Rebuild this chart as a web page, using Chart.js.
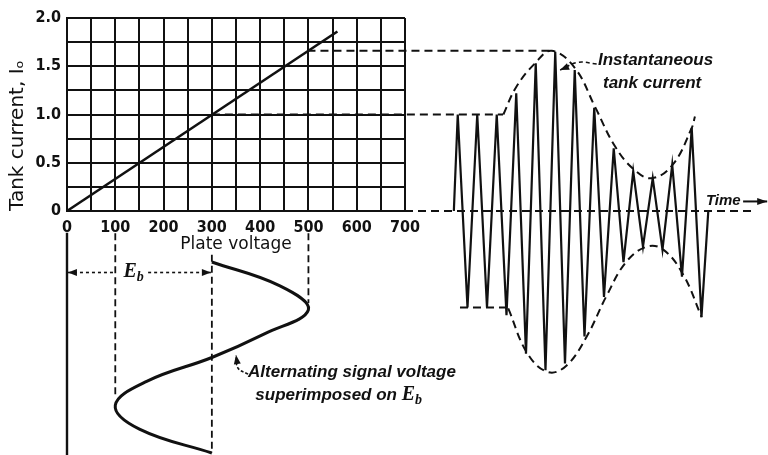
<!DOCTYPE html>
<html>
<head>
<meta charset="utf-8">
<title>Tank current and plate voltage</title>
<script src="https://cdn.jsdelivr.net/npm/chart.js@4.4.1/dist/chart.umd.min.js"></script>
<style>
  html, body { margin: 0; padding: 0; background: #fff; }
  #wrap { width: 768px; height: 455px; }
</style>
</head>
<body>
<div id="wrap"><canvas id="diagram" width="768" height="455"></canvas></div>
<script>
// --- characteristic: tank current vs plate voltage ---
const plateVolts = [0, 560];
const tankAmps = [0, 1.86];

// --- projection lines from the characteristic to the waveform ---
const peakLevelVolts = [498, 1003];
const peakLevelAmps = [1.66, 1.66];
const unitLevelVolts = [300, 903];
const unitLevelAmps = [1.0, 1.0];
const zeroLevelVolts = [700, 1420];
const zeroLevelAmps = [0, 0];

// --- instantaneous tank current, time in half-cycles of the carrier ---
const waveTime = [0.6, 1, 2, 3, 4, 5, 6, 7, 8, 9, 10, 11, 12, 13, 14, 15, 16, 17, 18, 19, 20, 21, 22, 23, 24, 25, 26, 26.7];
const waveAmps = [0, 1.0, -1.0, 1.0, -1.0, 1.0, -1.08, 1.22, -1.48, 1.53, -1.65, 1.65, -1.58, 1.46, -1.3, 1.07, -0.89, 0.65, -0.53, 0.41, -0.37, 0.34, -0.4, 0.48, -0.68, 0.86, -1.1, 0];

const upperEnvTime = [5.68, 6.97, 8.92, 10.63, 13.03, 15.08, 17.13, 19.08, 20.89, 23.05, 25.0, 25.33];
const upperEnvAmps = [1.0, 1.28, 1.53, 1.66, 1.48, 1.08, 0.67, 0.43, 0.34, 0.48, 0.86, 0.98];
const lowerEnvTime = [6.18, 8.17, 10.29, 12.17, 14.23, 16.21, 18.26, 20.38, 22.08, 24.13, 26.02];
const lowerEnvAmps = [-1.01, -1.48, -1.67, -1.6, -1.3, -0.89, -0.53, -0.37, -0.4, -0.66, -1.1];
const negLevelTime = [1.23, 6.15];
const negLevelAmps = [-1.0, -1.0];

const leaderTime = [15.25, 13.3, 11.5];
const leaderAmps = [1.523, 1.54, 1.46];
const timeArrowTime = [30.27, 32.74];
const timeArrowAmps = [0.099, 0.099];

// --- alternating signal voltage on the plate, time in quarter-cycles (downwards) ---
const signalTime = [0, 0.5, 1, 1.5, 2, 2.5, 3, 3.5, 4];
const signalVolts = [300, 441, 500, 410, 300, 165, 100, 150, 300];

const zeroAxisTime = [-0.61, 4.04];
const guide100Time = [-0.6, 2.8];
const guide300Time = [-0.15, 4.0];
const guide500Time = [-0.6, 0.86];
const ebLeftVolts = [2, 96];
const ebRightVolts = [168, 298];
const ebTime = [0.22, 0.22];
const signalLeaderVolts = [375, 354, 350];
const signalLeaderTime = [2.35, 2.22, 1.95];

// ticks
const voltStep = 50;
const ampStep = 0.25;

const pts = (xs, ys) => xs.map((x, i) => ({ x: x, y: ys[i] }));
const ink = '#111';
const fam = "'Liberation Sans', 'DejaVu Sans', sans-serif";
const wide = "'DejaVu Sans', sans-serif";
const cond = "'DejaVu Sans Condensed', 'DejaVu Sans', sans-serif";
const italic = 'italic bold 17px ' + fam;
const serifE = "italic bold 20px 'Liberation Serif', serif";
const serifSub = "italic bold 14px 'Liberation Serif', serif";

function line(data, xAxisID, yAxisID, extra) {
    return Object.assign({
        data: data,
        xAxisID: xAxisID,
        yAxisID: yAxisID,
        borderColor: ink,
        backgroundColor: ink,
        borderWidth: 2,
        pointRadius: 0,
        tension: 0,
        fill: false,
        clip: false
    }, extra || {});
}

// text notes, placed in the chart's own data coordinates
const notes = [
    { xAxis: 'xt', yAxis: 'y', x: 15.38, y: 1.557, parts: [{ text: 'Instantaneous', font: italic }] },
    { xAxis: 'xt', yAxis: 'y', x: 15.9, y: 1.319, parts: [{ text: 'tank current', font: italic }] },
    { xAxis: 'xt', yAxis: 'y', x: 26.46, y: 0.104, parts: [{ text: 'Time', font: 'italic bold 15px ' + fam }] },
    { xAxis: 'x', yAxis: 'yt', x: 375, y: 2.3, parts: [{ text: 'Alternating signal voltage', font: italic }] },
    { xAxis: 'x', yAxis: 'yt', x: 390, y: 2.79, parts: [
        { text: 'superimposed on ', font: italic },
        { text: 'E', font: serifE },
        { text: 'b', font: serifSub, dy: 5 }
    ] },
    { xAxis: 'x', yAxis: 'yt', x: 117, y: 0.2, parts: [
        { text: 'E', font: serifE },
        { text: 'b', font: serifSub, dy: 6 }
    ] }
];

const notePlugin = {
    id: 'notes',
    afterDatasetsDraw(chart) {
        const ctx = chart.ctx;
        ctx.save();
        ctx.fillStyle = ink;
        ctx.textBaseline = 'middle';
        ctx.textAlign = 'left';
        notes.forEach(n => {
            let px = chart.scales[n.xAxis].getPixelForValue(n.x);
            const py = chart.scales[n.yAxis].getPixelForValue(n.y);
            n.parts.forEach(p => {
                ctx.font = p.font;
                ctx.fillText(p.text, px, py + (p.dy || 0));
                px += ctx.measureText(p.text).width;
            });
        });
        ctx.restore();
    }
};

// arrowheads at chosen points of a dataset (points outside the chart area are not drawn by Chart.js)
const arrowPlugin = {
    id: 'arrows',
    afterDatasetsDraw(chart) {
        const ctx = chart.ctx;
        ctx.save();
        ctx.fillStyle = ink;
        chart.data.datasets.forEach((ds, i) => {
            if (!ds.arrows) return;
            const els = chart.getDatasetMeta(i).data;
            ds.arrows.forEach(idx => {
                const tip = els[idx];
                const from = els[idx === 0 ? 1 : idx - 1];
                const a = Math.atan2(tip.y - from.y, tip.x - from.x);
                const len = ds.arrowLen || 9, half = ds.arrowHalf || 3.5;
                ctx.beginPath();
                ctx.moveTo(tip.x, tip.y);
                ctx.lineTo(tip.x - len * Math.cos(a) + half * Math.sin(a), tip.y - len * Math.sin(a) - half * Math.cos(a));
                ctx.lineTo(tip.x - len * Math.cos(a) - half * Math.sin(a), tip.y - len * Math.sin(a) + half * Math.cos(a));
                ctx.closePath();
                ctx.fill();
            });
        });
        ctx.restore();
    }
};

// hidden axes get their range after the data limits, so the marks may fall outside the grid
function fixRange(min, max) {
    return scale => { scale.min = min; scale.max = max; };
}

const datasets = [
    line(pts(plateVolts, tankAmps), 'x', 'y', { borderWidth: 2.6 }),
    line(pts(peakLevelVolts, peakLevelAmps), 'x', 'y', { borderDash: [8, 5] }),
    line(pts(unitLevelVolts, unitLevelAmps), 'x', 'y', { borderDash: [8, 5] }),
    line(pts(zeroLevelVolts, zeroLevelAmps), 'x', 'y', { borderDash: [8, 5] }),

    line(pts(waveTime, waveAmps), 'xt', 'y', { borderWidth: 2.2 }),
    line(pts(upperEnvTime, upperEnvAmps), 'xt', 'y', { borderDash: [8, 5], tension: 0.4 }),
    line(pts(lowerEnvTime, lowerEnvAmps), 'xt', 'y', { borderDash: [8, 5], tension: 0.4 }),
    line(pts(negLevelTime, negLevelAmps), 'xt', 'y', { borderDash: [8, 5] }),
    line(pts(leaderTime, leaderAmps), 'xt', 'y', { borderDash: [4, 3], borderWidth: 1.6, tension: 0.4, arrows: [2] }),
    line(pts(timeArrowTime, timeArrowAmps), 'xt', 'y', { borderWidth: 2, arrows: [1], arrowLen: 10 }),

    line(pts(signalVolts, signalTime), 'x', 'yt', { borderWidth: 3, tension: 0.4 }),
    line(pts([0, 0], zeroAxisTime), 'x', 'yt', { borderWidth: 2.4 }),
    line(pts([100, 100], guide100Time), 'x', 'yt', { borderDash: [7, 4], borderWidth: 1.8 }),
    line(pts([300, 300], guide300Time), 'x', 'yt', { borderDash: [7, 4], borderWidth: 1.8 }),
    line(pts([500, 500], guide500Time), 'x', 'yt', { borderDash: [7, 4], borderWidth: 1.8 }),
    line(pts(ebLeftVolts, ebTime), 'x', 'yt', { borderDash: [3, 3], borderWidth: 1.6, arrows: [0] }),
    line(pts(ebRightVolts, ebTime), 'x', 'yt', { borderDash: [3, 3], borderWidth: 1.6, arrows: [1] }),
    line(pts(signalLeaderVolts, signalLeaderTime), 'x', 'yt', { borderDash: [3, 2], borderWidth: 1.5, tension: 0.4, arrows: [2] })
];

new Chart(document.getElementById('diagram'), {
    type: 'line',
    data: { datasets: datasets },
    plugins: [notePlugin, arrowPlugin],
    options: {
        responsive: false,
        animation: false,
        events: [],
        layout: { padding: { left: 0, top: 18, right: 363, bottom: 200 } },
        plugins: { legend: { display: false }, tooltip: { enabled: false } },
        scales: {
            x: {
                type: 'linear', min: 0, max: 700,
                afterFit: s => { s.height = 44; },
                grid: { color: ink, lineWidth: 2, drawTicks: false },
                border: { color: ink, width: 2 },
                ticks: {
                    stepSize: voltStep, autoSkip: false, maxRotation: 0, padding: 7, color: ink,
                    font: { family: cond, size: 16, weight: 'bold' },
                    callback: v => (v % 100 === 0 ? v : '')
                },
                title: { display: true, text: 'Plate voltage', color: ink, padding: { top: 0, bottom: 0 },
                    font: { family: wide, size: 17 } }
            },
            y: {
                type: 'linear', min: 0, max: 2,
                afterFit: s => { s.width = 67; },
                grid: { color: ink, lineWidth: 2, drawTicks: false },
                border: { color: ink, width: 2 },
                ticks: {
                    stepSize: ampStep, autoSkip: false, padding: 6, color: ink,
                    font: { family: cond, size: 16, weight: 'bold' },
                    callback: v => (Math.abs(v * 2 - Math.round(v * 2)) < 1e-9 ? (v === 0 ? '0' : v.toFixed(1)) : '')
                },
                title: { display: true, text: 'Tank current, Iₒ', color: ink, align: 'start',
                    padding: { top: 6, bottom: 0 }, font: { family: wide, size: 20 } }
            },
            xt: {
                type: 'linear', display: false, bounds: 'data',
                afterDataLimits: fixRange(-39.08, -4.41)
            },
            yt: {
                type: 'linear', display: false, bounds: 'data', reverse: true,
                afterDataLimits: fixRange(-5.11, -1.068)
            }
        }
    }
});
</script>
</body>
</html>
